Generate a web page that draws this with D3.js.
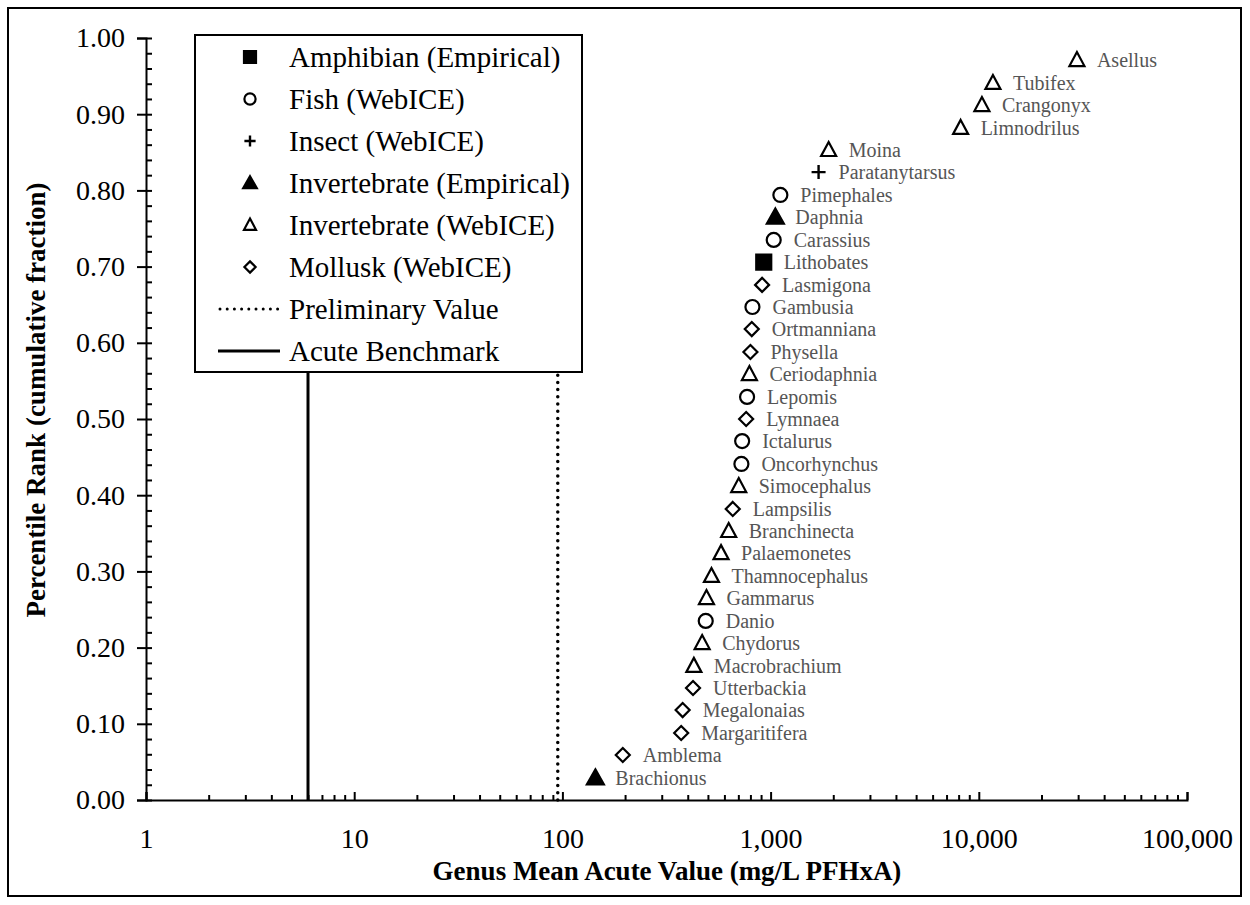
<!DOCTYPE html>
<html><head><meta charset="utf-8">
<script src="https://cdn.jsdelivr.net/npm/d3@7"></script>
<style>
body{margin:0;background:#fff}
text{font-family:"Liberation Serif","Times New Roman",serif}
</style>
</head><body>
<svg id="chart" width="1250" height="905"></svg>
<script>
// ---- data (ascending GMAV order) ----
const genera = ["Brachionus","Amblema","Margaritifera","Megalonaias","Utterbackia","Macrobrachium","Chydorus","Danio","Gammarus","Thamnocephalus","Palaemonetes","Branchinecta","Lampsilis","Simocephalus","Oncorhynchus","Ictalurus","Lymnaea","Lepomis","Ceriodaphnia","Physella","Ortmanniana","Gambusia","Lasmigona","Lithobates","Carassius","Daphnia","Pimephales","Paratanytarsus","Moina","Limnodrilus","Crangonyx","Tubifex","Asellus"];
const gmav = [144,195,372,378,424,428,469,488,492,520,578,629,658,703,724,730,763,771,791,800,812,818,910,927,1035,1054,1114,1700,1900,8180,10350,11690,29600];
const percentile = [0.029,0.059,0.088,0.118,0.147,0.176,0.206,0.235,0.265,0.294,0.324,0.353,0.382,0.412,0.441,0.471,0.500,0.529,0.559,0.588,0.618,0.647,0.676,0.706,0.735,0.765,0.794,0.824,0.853,0.882,0.912,0.941,0.971];
const groupOf = ["invE","mol","mol","mol","mol","invW","invW","fish","invW","invW","invW","invW","mol","invW","fish","fish","mol","fish","invW","mol","mol","fish","mol","amph","fish","invE","fish","ins","invW","invW","invW","invW","invW"];
const legendKeys = ["amph","fish","ins","invE","invW","mol"];
const legendNames = ["Amphibian (Empirical)","Fish (WebICE)","Insect (WebICE)","Invertebrate (Empirical)","Invertebrate (WebICE)","Mollusk (WebICE)"];
const lineNames = ["Preliminary Value","Acute Benchmark"];
const preliminaryValue = 95;
const acuteBenchmark = 6;
const xTicks = [1,10,100,1000,10000,100000];
const yTicks = [0,0.1,0.2,0.3,0.4,0.5,0.6,0.7,0.8,0.9,1.0];

// ---- chart ----
const svg = d3.select("#chart");
const W = 1250, H = 905;
svg.append("rect").attr("x",8).attr("y",8).attr("width",W-17).attr("height",H-17)
  .attr("fill","#fff").attr("stroke","#000").attr("stroke-width",2);

const x = d3.scaleLog().domain([1,100000]).range([146,1187]);
const y = d3.scaleLinear().domain([0,1]).range([800,38]);
const legBottom = 372;

// symbols
function symPath(k, s){
  s = s || 1;
  if(k==="amph"){const h=7.5*s;return `M${-h},${-h}H${h}V${h}H${-h}Z`;}
  if(k==="fish"){const r=7*s;return `M${r},0A${r},${r} 0 1,1 ${-r},0A${r},${r} 0 1,1 ${r},0Z`;}
  if(k==="ins"){const h=7*s;return `M${-h},0H${h}M0,${-h}V${h}`;}
  if(k==="invE"){return `M0,${-8.5*s}L${8.5*s},${6.5*s}L${-8.5*s},${6.5*s}Z`;}
  if(k==="invW"){return `M0,${-8*s}L${7.5*s},${6*s}L${-7.5*s},${6*s}Z`;}
  if(k==="mol"){const h=7*s;return `M0,${-h}L${h},0L0,${h}L${-h},0Z`;}
}
const filled = {amph:true, invE:true};
function drawSym(g,k,s){
  g.append("path").attr("d",symPath(k,s))
   .attr("fill",filled[k]?"#000":(k==="ins"?"none":"#fff"))
   .attr("stroke","#000").attr("stroke-width",k==="ins"?2.4:2.2)
   .attr("stroke-linejoin","miter");
}

// reference lines (below legend)
svg.append("line").attr("x1",x(acuteBenchmark)).attr("x2",x(acuteBenchmark))
  .attr("y1",y(0)).attr("y2",legBottom).attr("stroke","#000").attr("stroke-width",3);
svg.append("line").attr("x1",x(preliminaryValue)).attr("x2",x(preliminaryValue))
  .attr("y1",y(0)).attr("y2",legBottom).attr("stroke","#000").attr("stroke-width",3.5)
  .attr("stroke-dasharray","0 7.2").attr("stroke-linecap","round");

// axes
const yAx = svg.append("g").attr("transform","translate(146,0)")
  .call(d3.axisLeft(y).tickValues(yTicks).tickSize(9).tickPadding(12).tickFormat(d3.format(".2f")));
const minorY = d3.range(0,1.0001,0.02);
svg.append("g").attr("transform","translate(146,0)")
  .call(d3.axisRight(y).tickValues(minorY).tickSize(6).tickFormat(""))
  .call(g=>g.select(".domain").remove());
const minorX = [];
for(let d=1; d<100000; d*=10){ for(let m=2;m<=9;m++) minorX.push(d*m); }
svg.append("g").attr("transform","translate(0,800)")
  .call(d3.axisBottom(x).tickValues(minorX).tickSize(-5).tickFormat(""))
  .call(g=>g.select(".domain").remove());
const xAx = svg.append("g").attr("transform","translate(0,800)")
  .call(d3.axisBottom(x).tickValues(xTicks).tickSize(-8).tickPadding(28).tickFormat(d3.format(",")));
svg.selectAll(".tick line, .domain").attr("stroke","#000").attr("stroke-width",2);
yAx.selectAll("text").attr("font-size",28).attr("fill","#000");
xAx.selectAll("text").attr("font-size",28).attr("fill","#000");

// titles
svg.append("text").attr("transform","translate(45,400) rotate(-90)").attr("text-anchor","middle")
  .attr("font-size",27).attr("font-weight","bold").text("Percentile Rank (cumulative fraction)");
svg.append("text").attr("x",667).attr("y",880).attr("text-anchor","middle")
  .attr("font-size",27).attr("font-weight","bold").text("Genus Mean Acute Value (mg/L PFHxA)");

// points + labels
const pts = svg.append("g").selectAll("g").data(genera).join("g")
  .attr("transform",(d,i)=>`translate(${x(gmav[i])},${y(percentile[i])})`);
pts.each(function(d,i){ drawSym(d3.select(this), groupOf[i], 1); });
pts.append("text").attr("x",20).attr("dy","0.35em").attr("font-size",20).attr("fill","#555")
  .text(d=>d);

// legend
const leg = svg.append("g");
leg.append("rect").attr("x",195).attr("y",35).attr("width",387).attr("height",legBottom-35)
  .attr("fill","#fff").attr("stroke","#000").attr("stroke-width",2);
const rowY = i => 57 + i*42;
legendKeys.forEach((k,i)=>{
  const g = leg.append("g").attr("transform",`translate(250,${rowY(i)})`);
  drawSym(g,k,0.8);
  leg.append("text").attr("x",289).attr("y",rowY(i)).attr("dy","0.35em").attr("font-size",29).text(legendNames[i]);
});
leg.append("line").attr("x1",220).attr("x2",278).attr("y1",rowY(6)).attr("y2",rowY(6))
  .attr("stroke","#000").attr("stroke-width",3).attr("stroke-dasharray","0 7.2").attr("stroke-linecap","round");
leg.append("line").attr("x1",218).attr("x2",280).attr("y1",rowY(7)).attr("y2",rowY(7))
  .attr("stroke","#000").attr("stroke-width",3);
lineNames.forEach((n,j)=>{
  leg.append("text").attr("x",289).attr("y",rowY(6+j)).attr("dy","0.35em").attr("font-size",29).text(n);
});
</script>
</body></html>
